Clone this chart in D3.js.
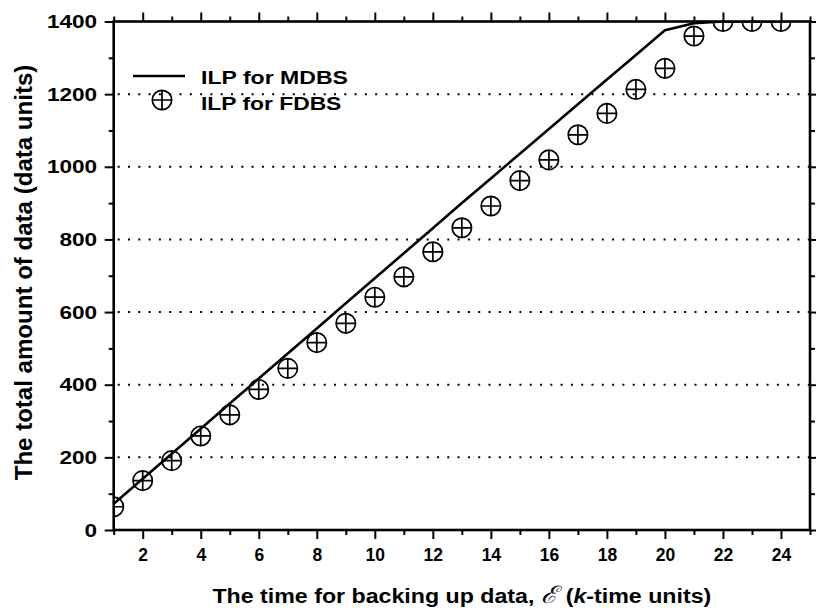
<!DOCTYPE html>
<html>
<head>
<meta charset="utf-8">
<script src="https://cdn.jsdelivr.net/npm/d3@7"></script>
<style>
  body { margin: 0; background: #fff; }
  text { font-family: "Liberation Sans", Arial, Helvetica, sans-serif; font-weight: bold; fill: #000; }
</style>
</head>
<body>
<svg id="chart" width="816" height="614"></svg>
<script>
// Backup time periods (k-time units)
const periods = [1, 2, 3, 4, 5, 6, 7, 8, 9, 10, 11, 12, 13, 14, 15, 16, 17, 18, 19, 20, 21, 22, 23, 24];
// Total amount of data backed up (data units)
const mdbsValues = [72, 141, 210, 279, 348, 417, 486, 555, 624, 693, 762, 831, 900, 968, 1036, 1104, 1172, 1240, 1308, 1376, 1395, 1400, 1400, 1400];
const fdbsValues = [64, 136, 191, 259, 317, 387, 445, 516, 569, 641, 697, 766, 832, 892, 962, 1019, 1088, 1147, 1213, 1271, 1360, 1400, 1400, 1400];

const xMajorTicks = [2, 4, 6, 8, 10, 12, 14, 16, 18, 20, 22, 24];
const xMinorTicks = [1, 3, 5, 7, 9, 11, 13, 15, 17, 19, 21, 23, 25];
const yMajorTicks = [0, 200, 400, 600, 800, 1000, 1200, 1400];
const yMinorTicks = [100, 300, 500, 700, 900, 1100, 1300];
const gridValues = [200, 400, 600, 800, 1000, 1200];

const seriesNames = ["ILP for MDBS", "ILP for FDBS"];

const svg = d3.select("#chart");
const x = d3.scaleLinear().domain([1, 25]).range([113.7, 810]);
const y = d3.scaleLinear().domain([0, 1400]).range([530, 21.5]);

const plotLeft = x.range()[0], plotRight = x.range()[1];
const plotTop = y.range()[1], plotBottom = y.range()[0];

// Horizontal stretch factor that brings a text element to a target width
function fitWidth(sel, target) {
  const w = sel.node().getComputedTextLength();
  return w > 0 ? target / w : 1;
}

svg.append("defs").append("clipPath").attr("id", "plot-clip")
  .append("rect").attr("x", plotLeft).attr("y", plotTop)
  .attr("width", plotRight - plotLeft).attr("height", plotBottom - plotTop);

// Dotted horizontal grid
svg.append("g").selectAll("line").data(gridValues).join("line")
  .attr("x1", plotLeft + 4).attr("x2", plotRight)
  .attr("y1", d => y(d)).attr("y2", d => y(d))
  .attr("stroke", "#000").attr("stroke-width", 2)
  .attr("stroke-dasharray", "2,8.3");

// Axes and ticks
function drawAxis(axis, transform) {
  const g = svg.append("g").attr("transform", transform).call(axis);
  g.select(".domain").remove();
  g.selectAll(".tick line").attr("stroke", "#000").attr("stroke-width", 2);
  return g;
}

const xBottom = drawAxis(d3.axisBottom(x).tickValues(xMajorTicks).tickSize(9).tickPadding(10)
  .tickFormat(d3.format("d")), `translate(0,${plotBottom})`);
xBottom.selectAll("text").attr("font-size", 17.5).attr("fill", "#000");
drawAxis(d3.axisBottom(x).tickValues(xMinorTicks).tickSize(5).tickFormat(""), `translate(0,${plotBottom})`);
drawAxis(d3.axisTop(x).tickValues(xMajorTicks).tickSize(9).tickFormat(""), `translate(0,${plotTop})`);
drawAxis(d3.axisTop(x).tickValues(xMinorTicks).tickSize(5).tickFormat(""), `translate(0,${plotTop})`);

const yLeft = drawAxis(d3.axisLeft(y).tickValues(yMajorTicks).tickSize(9).tickPadding(8)
  .tickFormat(d3.format("d")), `translate(${plotLeft},0)`);
yLeft.selectAll("text")
  .attr("font-size", 19).attr("fill", "#000")
  .attr("x", 0)
  .attr("transform", "translate(-16.5,0) scale(1.19,1)");
drawAxis(d3.axisLeft(y).tickValues(yMinorTicks).tickSize(5).tickFormat(""), `translate(${plotLeft},0)`);
drawAxis(d3.axisRight(y).tickValues(yMajorTicks).tickSize(9).tickFormat(""), `translate(${plotRight},0)`);
drawAxis(d3.axisRight(y).tickValues(yMinorTicks).tickSize(5).tickFormat(""), `translate(${plotRight},0)`);

// Data layer
const plot = svg.append("g").attr("clip-path", "url(#plot-clip)");

const mdbsLine = d3.line().x((d, i) => x(periods[i])).y(d => y(d));
plot.append("path").datum(mdbsValues)
  .attr("d", mdbsLine)
  .attr("fill", "none").attr("stroke", "#000").attr("stroke-width", 2.6)
  .attr("stroke-linejoin", "round");

const r = 9.7;
function crossCircle(g) {
  g.append("circle").attr("r", r).attr("fill", "none").attr("stroke", "#000").attr("stroke-width", 1.7);
  g.append("path").attr("d", `M${-r},0H${r}M0,${-r}V${r}`)
    .attr("stroke", "#000").attr("stroke-width", 1.7);
}
plot.append("g").selectAll("g").data(fdbsValues).join("g")
  .attr("transform", (d, i) => `translate(${x(periods[i])},${y(d)})`)
  .each(function () { crossCircle(d3.select(this)); });

// Frame
svg.append("rect").attr("x", plotLeft).attr("y", plotTop)
  .attr("width", plotRight - plotLeft).attr("height", plotBottom - plotTop)
  .attr("fill", "none").attr("stroke", "#000").attr("stroke-width", 2.6);

// Legend
const legend = svg.append("g");
legend.append("line").attr("x1", 133).attr("x2", 185).attr("y1", 76).attr("y2", 76)
  .attr("stroke", "#000").attr("stroke-width", 2.6);
crossCircle(legend.append("g").attr("transform", "translate(162,100)"));
[[seriesNames[0], 84, 147], [seriesNames[1], 110, 140.5]].forEach(([label, by, w]) => {
  const t = legend.append("text").attr("font-size", 18.5).text(label);
  const s = fitWidth(t, w);
  t.attr("transform", `translate(201,${by}) scale(${s},1)`);
});

// Axis titles
const xTitle = svg.append("text").attr("font-size", 20.5).attr("text-anchor", "middle");
xTitle.append("tspan").text("The time for backing up data, ");
xTitle.append("tspan").attr("font-style", "italic").attr("font-weight", "normal")
  .attr("font-size", 24)
  .style("font-family", "'DejaVu Serif', serif").text("\u2130");
xTitle.append("tspan").attr("dx", 8).text("(");
xTitle.append("tspan").attr("font-style", "italic").text("k");
xTitle.append("tspan").text("-time units)");
const sx = fitWidth(xTitle, 490);
xTitle.attr("transform", `translate(${(plotLeft + plotRight) / 2},602.7) scale(${sx},1)`);

const yTitle = svg.append("text").attr("font-size", 24).attr("text-anchor", "middle")
  .text("The total amount of data (data units)");
const sy = fitWidth(yTitle, 416);
yTitle.attr("transform", `translate(32,272.5) rotate(-90) scale(${sy},1)`);
</script>
</body>
</html>
